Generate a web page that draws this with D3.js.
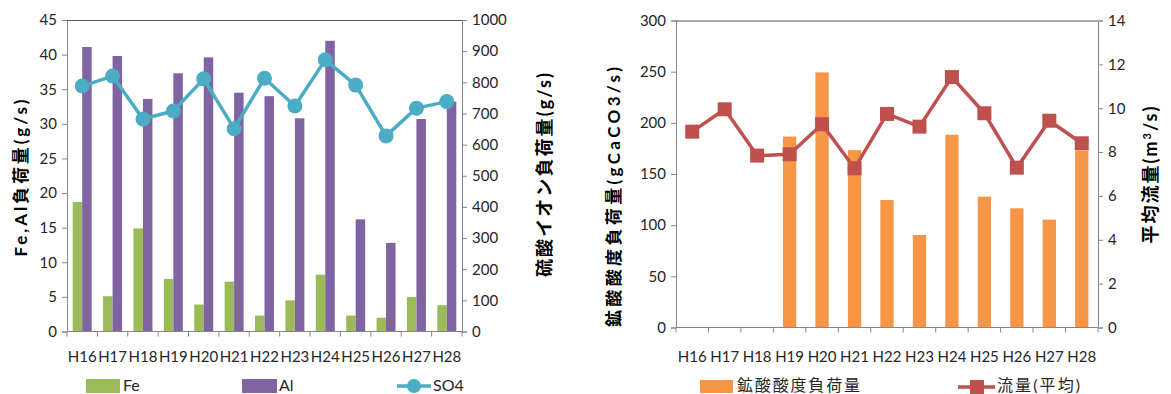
<!DOCTYPE html>
<html><head><meta charset="utf-8">
<script src="https://cdn.jsdelivr.net/npm/d3@7"></script>
<style>
body{margin:0;background:#fff;}
svg{display:block;font-family:Lato,"Noto Sans CJK JP",sans-serif;}
.tick text{font-size:15px;fill:#262626;font-family:Lato,"Noto Sans CJK JP",sans-serif;}
</style></head>
<body><svg id="c" width="1171" height="394"></svg>
<script>
const years = ["H16","H17","H18","H19","H20","H21","H22","H23","H24","H25","H26","H27","H28"];
const fe = [18.7,5.1,14.9,7.6,3.9,7.2,2.3,4.5,8.2,2.3,2.0,5.0,3.8];
const al = [41.1,39.8,33.6,37.3,39.6,34.5,34.0,30.8,42.0,16.2,12.8,30.7,33.2];
const so4 = [788,820,682,708,811,651,813,724,872,791,628,717,738];
const acid = [null,null,null,186.6,249.3,173.3,124.6,90.4,188.3,127.9,116.5,105.4,172.9];
const flow = [8.93,9.95,7.84,7.90,9.27,7.26,9.74,9.16,11.42,9.77,7.29,9.43,8.40];
const leftTicks1 = [0,5,10,15,20,25,30,35,40,45];
const rightTicks1 = [0,100,200,300,400,500,600,700,800,900,1000];
const leftTicks2 = [0,50,100,150,200,250,300];
const rightTicks2 = [0,2,4,6,8,10,12,14];

const C = {fe:"#9BBB59", al:"#8064A2", so4:"#4BACC6", acid:"#F79646", flow:"#C0504D", axis:"#868686"};
const svg = d3.select("#c");
const fmt = d3.format("d");

function frame(g, x0, x1, yT, yB, yL, yR, tL, tR, xs){
  g.append("g").attr("transform",`translate(${x0},0)`)
    .call(d3.axisLeft(yL).tickValues(tL).tickFormat(fmt).tickSize(5).tickPadding(5))
    .call(a=>{a.select(".domain").attr("stroke",C.axis);a.selectAll(".tick line").attr("stroke",C.axis);});
  g.append("g").attr("transform",`translate(${x1},0)`)
    .call(d3.axisRight(yR).tickValues(tR).tickFormat(fmt).tickSize(5).tickPadding(5))
    .call(a=>{a.select(".domain").attr("stroke",C.axis);a.selectAll(".tick line").attr("stroke",C.axis);});
  g.append("line").attr("x1",x0).attr("x2",x1).attr("y1",yT+0.5).attr("y2",yT+0.5).attr("stroke","#595959");
  g.append("line").attr("x1",x0).attr("x2",x1).attr("y1",yB).attr("y2",yB).attr("stroke",C.axis);
  const bounds = years.map(d=>xs(d)).concat([xs.range()[1]]);
  g.selectAll(".xt").data(bounds).join("line").attr("x1",d=>d).attr("x2",d=>d)
    .attr("y1",yB).attr("y2",yB+5).attr("stroke",C.axis);
}

// ---------- Left chart ----------
{
  const x0=67,x1=462,yT=20,yB=331.5;
  const g = svg.append("g");
  const x = d3.scaleBand().domain(years).range([x0,x1]).padding(0);
  const sub = d3.scaleBand().domain(["fe","al"]).range([0,x.bandwidth()]).paddingInner(0).paddingOuter(0.6);
  const yL = d3.scaleLinear().domain([0,45]).range([yB,yT]);
  const yR = d3.scaleLinear().domain([0,1000]).range([yB,yT]);
  g.selectAll(".fe").data(years).join("rect").attr("fill",C.fe)
    .attr("x",(d,i)=>x(d)+sub("fe")).attr("width",sub.bandwidth())
    .attr("y",(d,i)=>yL(fe[i])).attr("height",(d,i)=>yB-yL(fe[i]));
  g.selectAll(".al").data(years).join("rect").attr("fill",C.al)
    .attr("x",(d,i)=>x(d)+sub("al")).attr("width",sub.bandwidth())
    .attr("y",(d,i)=>yL(al[i])).attr("height",(d,i)=>yB-yL(al[i]));
  frame(g,x0,x1,yT,yB,yL,yR,leftTicks1,rightTicks1,x);
  const line = d3.line().x((d,i)=>x(years[i])+x.bandwidth()/2).y(d=>yR(d));
  g.append("path").attr("d",line(so4)).attr("fill","none").attr("stroke",C.so4).attr("stroke-width",3.5).attr("stroke-linejoin","round");
  g.selectAll(".sp").data(so4).join("circle").attr("cx",(d,i)=>x(years[i])+x.bandwidth()/2)
    .attr("cy",d=>yR(d)).attr("r",7.5).attr("fill",C.so4);
  g.selectAll(".xl").data(years).join("text").attr("x",d=>x(d)+x.bandwidth()/2).attr("y",362)
    .attr("text-anchor","middle").attr("font-size",15).attr("fill","#262626").text(d=>d);
  g.append("text").attr("transform","translate(27,178) rotate(-90)").attr("text-anchor","middle")
    .attr("font-size",17).attr("font-weight","bold").attr("textLength",157).attr("lengthAdjust","spacing").text("Fe,Al負荷量(g/s)");
  g.append("text").attr("transform","translate(551,175) rotate(-90)").attr("text-anchor","middle")
    .attr("font-size",18).attr("font-weight","bold").attr("textLength",204).attr("lengthAdjust","spacing").text("硫酸イオン負荷量(g/s)");
  // legend
  g.append("rect").attr("x",86).attr("y",379).attr("width",34).attr("height",14).attr("fill",C.fe);
  g.append("text").attr("x",123).attr("y",391).attr("font-size",16).attr("fill","#262626").text("Fe");
  g.append("rect").attr("x",242).attr("y",379).attr("width",35).attr("height",14).attr("fill",C.al);
  g.append("text").attr("x",279).attr("y",391).attr("font-size",16).attr("fill","#262626").text("Al");
  g.append("line").attr("x1",397).attr("x2",431).attr("y1",386).attr("y2",386).attr("stroke",C.so4).attr("stroke-width",3.5);
  g.append("circle").attr("cx",414).attr("cy",386).attr("r",7).attr("fill",C.so4);
  g.append("text").attr("x",433).attr("y",391).attr("font-size",16).attr("fill","#262626").text("SO4");
}

// ---------- Right chart ----------
{
  const x0=676,x1=1098,yT=20.5,yB=327.5;
  const g = svg.append("g");
  const x = d3.scaleBand().domain(years).range([x0,x1]).padding(0);
  const yL = d3.scaleLinear().domain([0,300]).range([yB,yT]);
  const yR = d3.scaleLinear().domain([0,14]).range([yB,yT]);
  const bw = x.bandwidth()*0.41;
  const ad = years.map((d,i)=>({y:d,v:acid[i]})).filter(d=>d.v!=null);
  g.selectAll(".ac").data(ad).join("rect").attr("fill",C.acid)
    .attr("x",d=>x(d.y)+(x.bandwidth()-bw)/2).attr("width",bw)
    .attr("y",d=>yL(d.v)).attr("height",d=>yB-yL(d.v));
  frame(g,x0,x1,yT,yB,yL,yR,leftTicks2,rightTicks2,x);
  const line = d3.line().x((d,i)=>x(years[i])+x.bandwidth()/2).y(d=>yR(d));
  g.append("path").attr("d",line(flow)).attr("fill","none").attr("stroke",C.flow).attr("stroke-width",3.5).attr("stroke-linejoin","round");
  g.selectAll(".fp").data(flow).join("rect").attr("x",(d,i)=>x(years[i])+x.bandwidth()/2-7)
    .attr("y",d=>yR(d)-7).attr("width",14).attr("height",14).attr("fill",C.flow);
  g.selectAll(".xl").data(years).join("text").attr("x",d=>x(d)+x.bandwidth()/2).attr("y",362)
    .attr("text-anchor","middle").attr("font-size",15).attr("fill","#262626").text(d=>d);
  g.append("text").attr("transform","translate(620,197) rotate(-90)").attr("text-anchor","middle")
    .attr("font-size",17).attr("font-weight","bold").attr("textLength",260).attr("lengthAdjust","spacing").text("鉱酸酸度負荷量(gCaCO3/s)");
  const t = g.append("text").attr("transform","translate(1157,174) rotate(-90)").attr("text-anchor","middle")
    .attr("font-size",18).attr("font-weight","bold").attr("letter-spacing",2);
  t.append("tspan").text("平均流量(m");
  t.append("tspan").attr("font-size",11).attr("dy",-6).text("3");
  t.append("tspan").attr("dy",6).text("/s)");
  // legend
  g.append("rect").attr("x",700).attr("y",380).attr("width",33).attr("height",13).attr("fill",C.acid);
  g.append("text").attr("x",737).attr("y",391).attr("font-size",16).attr("fill","#262626").attr("textLength",123).attr("lengthAdjust","spacing").text("鉱酸酸度負荷量");
  g.append("line").attr("x1",958).attr("x2",995).attr("y1",387).attr("y2",387).attr("stroke",C.flow).attr("stroke-width",3.5);
  g.append("rect").attr("x",970).attr("y",380).attr("width",14).attr("height",14).attr("fill",C.flow);
  g.append("text").attr("x",997).attr("y",391).attr("font-size",16).attr("fill","#262626").attr("textLength",83).attr("lengthAdjust","spacing").text("流量(平均)");
}
</script></body></html>
